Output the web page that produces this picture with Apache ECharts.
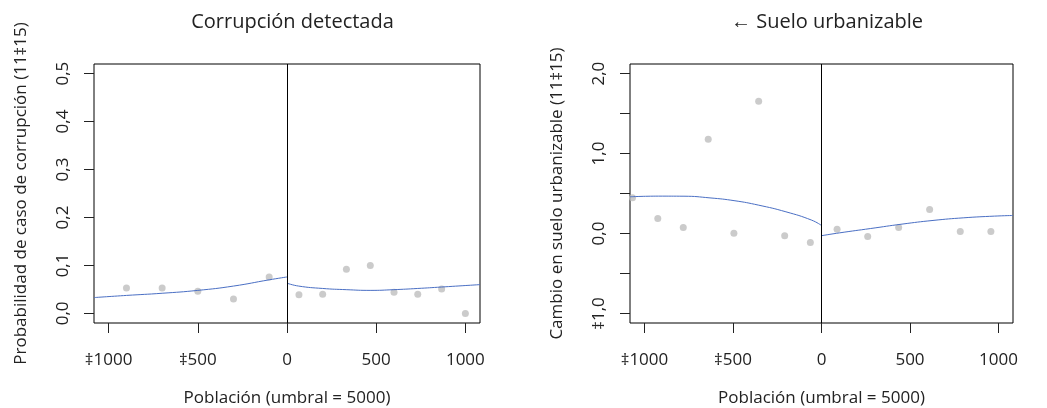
<!DOCTYPE html>
<html>
<head>
<meta charset="utf-8">
<script src="https://cdn.jsdelivr.net/npm/echarts@6/dist/echarts.min.js"></script>
<style>
html,body{margin:0;padding:0;background:#fff;}
#chart{width:1047px;height:408px;}
</style>
</head>
<body>
<div id="chart"></div>
<script>
// ---- data ----
var titles = ['Corrupción detectada', '← Suelo urbanizable'];
var yTitles = ['Probabilidad de caso de corrupción (11‡15)', 'Cambio en suelo urbanizable (11‡15)'];
var xTitle = 'Población (umbral = 5000)';
var xTicks = [-1000, -500, 0, 500, 1000];
var yTicksA = [0, 0.1, 0.2, 0.3, 0.4, 0.5];
var yTicksB = [-1, -0.5, 0, 0.5, 1, 1.5, 2];
var yLabelsB = [-1, 0, 1, 2];

// panel A: corruption (binned means)
var corrX = [-900, -700, -500, -300, -100, 67, 200, 333, 467, 600, 733, 867, 1000];
var corrY = [0.053, 0.053, 0.046, 0.030, 0.076, 0.039, 0.040, 0.092, 0.100, 0.044, 0.040, 0.051, 0.000];
// panel A fitted curves
var corrFitLX = [-1082, -900, -700, -500, -300, -100, 0];
var corrFitLY = [0.033, 0.0375, 0.042, 0.048, 0.057, 0.070, 0.076];
var corrFitRX = [0, 65, 200, 332, 466, 599, 733, 866, 1082];
var corrFitRY = [0.063, 0.057, 0.052, 0.0495, 0.048, 0.0495, 0.052, 0.055, 0.060];

// panel B: land (binned means)
var landX = [-1068, -925, -781, -640, -495, -355, -208, -63, 88, 261, 436, 611, 784, 957];
var landY = [0.446, 0.188, 0.075, 1.18, 0.002, 1.654, -0.028, -0.113, 0.052, -0.038, 0.075, 0.30, 0.025, 0.025];
// panel B fitted curves
var landFitLX = [-1082, -921, -777, -630, -489, -357, -201, -56, 0];
var landFitLY = [0.459, 0.467, 0.466, 0.445, 0.409, 0.355, 0.271, 0.167, 0.100];
var landFitRX = [0, 103, 278, 455, 630, 804, 977, 1082];
var landFitRY = [-0.028, 0.008, 0.062, 0.117, 0.163, 0.196, 0.217, 0.225];

function zip(a, b) { return a.map(function (v, i) { return [v, b[i]]; }); }
function comma(v, d) { return v.toFixed(d).replace('.', ',').replace('-', '‡'); }

var FONT = 'Open Sans';
var TXT = '#222';
var PT = '#BEBEBE';
var LN = '#4A6FC4';
var TICK = '#222';

function xAxisFor(gi) {
  return {
    type: 'value', gridIndex: gi, min: -1082, max: 1082,
    axisLine: { show: false, onZero: false },
    splitLine: { show: false },
    axisTick: { show: true, inside: false, length: 10, customValues: xTicks, lineStyle: { color: TICK, width: 1 } },
    axisLabel: { customValues: xTicks, margin: 29, fontFamily: FONT, fontSize: 17, color: TXT,
      formatter: function (v) { return String(v).replace('-', '‡'); } },
    name: xTitle, nameLocation: 'middle', nameGap: 67,
    nameTextStyle: { fontFamily: FONT, fontSize: 17, color: TXT }
  };
}
function vline() {
  return { silent: true, symbol: ['none', 'none'], label: { show: false },
    lineStyle: { color: '#000', width: 1, type: 'solid' }, data: [{ xAxis: 0 }] };
}
function yAxisFor(gi, mn, mx, ticks, labels, title) {
  return { type: 'value', gridIndex: gi, min: mn, max: mx,
    axisLine: { show: false, onZero: false }, splitLine: { show: false },
    axisTick: { show: true, inside: false, length: 10, customValues: ticks, lineStyle: { color: TICK } },
    axisLabel: { customValues: labels, rotate: 90, margin: 22, fontFamily: FONT, fontSize: 17, color: TXT,
      formatter: function (v) { return comma(v, 1); } },
    name: title, nameLocation: 'middle', nameRotate: 90, nameGap: 64,
    nameTextStyle: { fontFamily: FONT, fontSize: 17, color: TXT } };
}

var option = {
  animation: false,
  backgroundColor: '#fff',
  title: [
    { text: titles[0], left: 287.5, top: 7, textAlign: 'center',
      textStyle: { fontFamily: FONT, fontSize: 20, fontWeight: 'normal', color: TXT } },
    { text: titles[1], left: 822, top: 7, textAlign: 'center',
      textStyle: { fontFamily: FONT, fontSize: 20, fontWeight: 'normal', color: TXT } }
  ],
  grid: [
    { left: 94, top: 64, width: 386, height: 259, outerBoundsMode: 'none', containLabel: false,
      show: true, borderColor: '#000', borderWidth: 1, backgroundColor: 'transparent' },
    { left: 630, top: 64, width: 383, height: 259, outerBoundsMode: 'none', containLabel: false,
      show: true, borderColor: '#000', borderWidth: 1, backgroundColor: 'transparent' }
  ],
  xAxis: [xAxisFor(0), xAxisFor(1)],
  yAxis: [
    yAxisFor(0, -0.02, 0.52, yTicksA, yTicksA, yTitles[0]),
    yAxisFor(1, -1.12, 2.12, yTicksB, yLabelsB, yTitles[1])
  ],
  series: [
    { type: 'line', xAxisIndex: 0, yAxisIndex: 0, data: zip(corrFitLX, corrFitLY), smooth: true, showSymbol: false,
      lineStyle: { color: LN, width: 1 }, markLine: vline(), z: 3 },
    { type: 'line', xAxisIndex: 0, yAxisIndex: 0, data: zip(corrFitRX, corrFitRY), smooth: true, showSymbol: false,
      lineStyle: { color: LN, width: 1 }, z: 3 },
    { type: 'scatter', xAxisIndex: 0, yAxisIndex: 0, data: zip(corrX, corrY), symbolSize: 7,
      itemStyle: { color: PT }, z: 2 },
    { type: 'line', xAxisIndex: 1, yAxisIndex: 1, data: zip(landFitLX, landFitLY), smooth: true, showSymbol: false,
      lineStyle: { color: LN, width: 1 }, markLine: vline(), z: 3 },
    { type: 'line', xAxisIndex: 1, yAxisIndex: 1, data: zip(landFitRX, landFitRY), smooth: true, showSymbol: false,
      lineStyle: { color: LN, width: 1 }, z: 3 },
    { type: 'scatter', xAxisIndex: 1, yAxisIndex: 1, data: zip(landX, landY), symbolSize: 7,
      itemStyle: { color: PT }, z: 2 }
  ]
};
var chart = echarts.init(document.getElementById('chart'), null, { renderer: 'canvas' });
chart.setOption(option);
</script>
</body>
</html>
